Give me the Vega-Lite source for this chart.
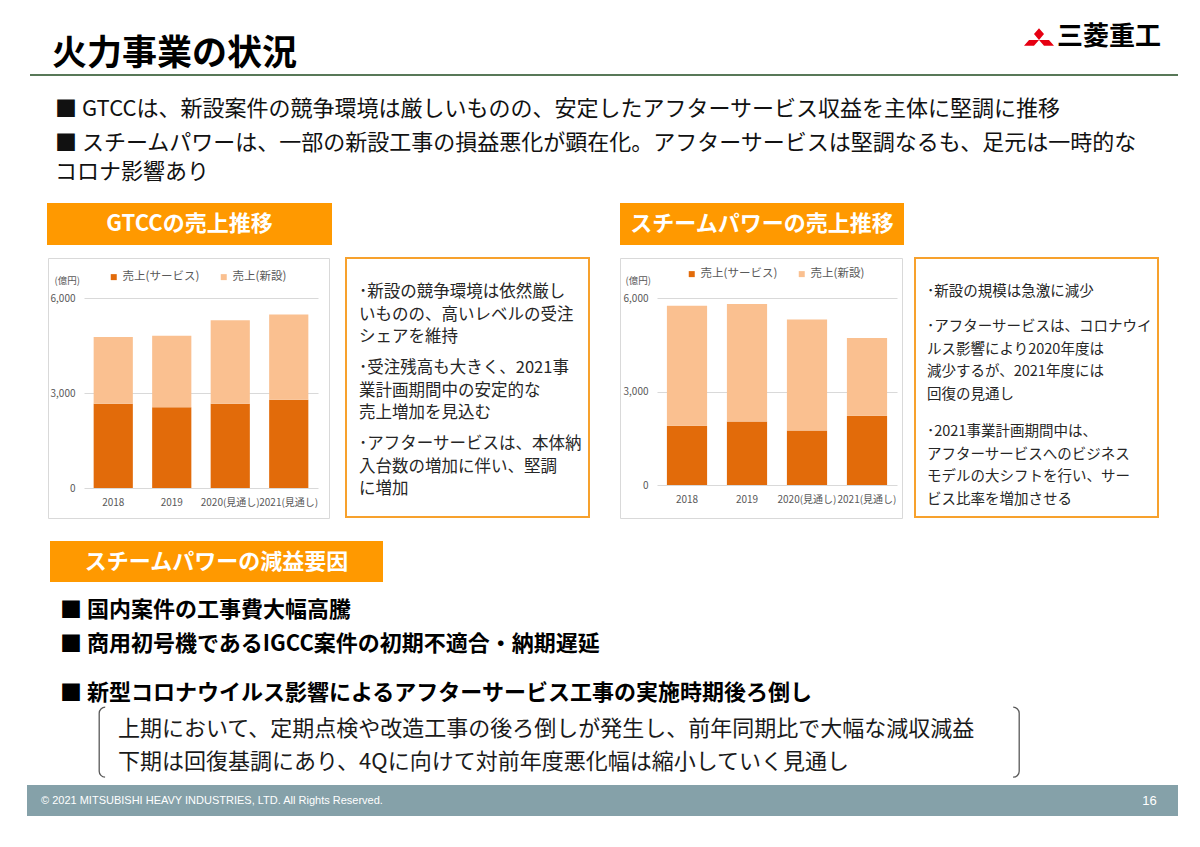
{
  "$schema": "https://vega.github.io/schema/vega-lite/v6.json",
  "background": "white",
  "padding": 0,
  "spacing": 0,
  "config": {"view": {"stroke": null}, "concat": {"spacing": 0}, "font": "Noto Sans CJK JP"},
  "resolve": {"scale": {"color": "independent"}, "legend": {"color": "independent"}},
  "datasets": {
    "gtcc": [
      {"年度": "2018", "系列": "売上(サービス)", "売上": 2660},
      {"年度": "2018", "系列": "売上(新設)", "売上": 2110},
      {"年度": "2019", "系列": "売上(サービス)", "売上": 2550},
      {"年度": "2019", "系列": "売上(新設)", "売上": 2260},
      {"年度": "2020(見通し)", "系列": "売上(サービス)", "売上": 2660},
      {"年度": "2020(見通し)", "系列": "売上(新設)", "売上": 2640},
      {"年度": "2021(見通し)", "系列": "売上(サービス)", "売上": 2790},
      {"年度": "2021(見通し)", "系列": "売上(新設)", "売上": 2690}
    ],
    "steam": [
      {"年度": "2018", "系列": "売上(サービス)", "売上": 1900},
      {"年度": "2018", "系列": "売上(新設)", "売上": 3850},
      {"年度": "2019", "系列": "売上(サービス)", "売上": 2040},
      {"年度": "2019", "系列": "売上(新設)", "売上": 3770},
      {"年度": "2020(見通し)", "系列": "売上(サービス)", "売上": 1750},
      {"年度": "2020(見通し)", "系列": "売上(新設)", "売上": 3560},
      {"年度": "2021(見通し)", "系列": "売上(サービス)", "売上": 2220},
      {"年度": "2021(見通し)", "系列": "売上(新設)", "売上": 2500}
    ],
    "steamNote": [
      {"区分": "スチームパワー所見", "段落": 1, "文": ["･新設の規模は急激に減少"]},
      {"区分": "スチームパワー所見", "段落": 2, "文": ["･アフターサービスは、コロナウイ", "\u2002ルス影響により2020年度は", "\u2002減少するが、2021年度には", "\u2002回復の見通し"]},
      {"区分": "スチームパワー所見", "段落": 3, "文": ["･2021事業計画期間中は、", "\u2002アフターサービスへのビジネス", "\u2002モデルの大シフトを行い、サー", "\u2002ビス比率を増加させる"]}
    ]
  },
  "vconcat": [
    {"spacing": 0, "hconcat": [
      {"width": 52, "height": 74, "data": {"values": []}, "mark": "text"},
      {"width": 480, "height": 74,
       "data": {"values": [{"区分": "表題", "段落": 1, "文": "火力事業の状況"}]},
       "mark": {"type": "text", "align": "left", "baseline": "middle", "fontSize": 35, "fontWeight": "bold", "color": "#000000"},
       "encoding": {
         "text": {"field": "文"},
         "x": {"field": "区分", "type": "nominal", "axis": null, "bandPosition": 0, "scale": {"type": "band", "paddingInner": 0, "paddingOuter": 0}},
         "y": {"field": "段落", "type": "ordinal", "axis": null, "scale": {"type": "point", "padding": 0, "range": [54, 54]}}
       }},
      {"width": 492, "height": 74, "data": {"values": []}, "mark": "text"},
      {"width": 30, "height": 74,
       "data": {"values": [{"社章": "三菱"}]},
       "mark": {"type": "point", "shape": "M0,-0.51L0.289,-0.17L0,0.17L-0.289,-0.17Z M0,0.17L-0.577,0.17L-0.866,0.51L-0.289,0.51Z M0,0.17L0.577,0.17L0.866,0.51L0.289,0.51Z", "size": 1200, "filled": true, "color": "#E60012", "opacity": 1, "strokeWidth": 0}},
      {"width": 3, "height": 74, "data": {"values": []}, "mark": "text"},
      {"width": 121, "height": 74,
       "data": {"values": [{"区分": "社名", "文": "三菱重工"}]},
       "mark": {"type": "text", "align": "left", "baseline": "middle", "fontSize": 26, "fontWeight": "bold", "color": "#000000"},
       "encoding": {
         "text": {"field": "文"},
         "x": {"field": "区分", "type": "nominal", "axis": null, "bandPosition": 0, "scale": {"type": "band", "paddingInner": 0, "paddingOuter": 0}}
       }}
    ]},
    {"spacing": 0, "hconcat": [
      {"width": 30, "height": 2, "data": {"values": []}, "mark": "text"},
      {"width": 1148, "height": 2, "view": {"fill": "#587858", "stroke": null}, "data": {"values": []}, "mark": "text"}
    ]},
    {"spacing": 0, "hconcat": [
      {"width": 55, "height": 127, "data": {"values": []}, "mark": "text"},
      {"width": 1123, "height": 127,
       "data": {"values": [
         {"区分": "要旨", "段落": 1, "文": ["■ GTCCは、新設案件の競争環境は厳しいものの、安定したアフターサービス収益を主体に堅調に推移"]},
         {"区分": "要旨", "段落": 2, "文": ["■ スチームパワーは、一部の新設工事の損益悪化が顕在化。アフターサービスは堅調なるも、足元は一時的な", "\u3000 コロナ影響あり"]}
       ]},
       "mark": {"type": "text", "align": "left", "baseline": "top", "fontSize": 22, "lineHeight": 29, "color": "#111111"},
       "encoding": {
         "text": {"field": "文"},
         "x": {"field": "区分", "type": "nominal", "axis": null, "bandPosition": 0, "scale": {"type": "band", "paddingInner": 0, "paddingOuter": 0}},
         "y": {"field": "段落", "type": "ordinal", "axis": null, "scale": {"type": "point", "padding": 0, "range": [23, 57]}}
       }}
    ]},
    {"spacing": 0, "hconcat": [
      {"width": 47, "height": 42, "data": {"values": []}, "mark": "text"},
      {"width": 285, "height": 42, "view": {"fill": "#FF9900", "stroke": null},
       "data": {"values": [{"文": "GTCCの売上推移"}]},
       "mark": {"type": "text", "align": "center", "baseline": "middle", "fontSize": 22, "fontWeight": "bold", "color": "#FFFFFF"},
       "encoding": {"text": {"field": "文"}}},
      {"width": 288, "height": 42, "data": {"values": []}, "mark": "text"},
      {"width": 284, "height": 42, "view": {"fill": "#FF9900", "stroke": null},
       "data": {"values": [{"文": "スチームパワーの売上推移"}]},
       "mark": {"type": "text", "align": "center", "baseline": "middle", "fontSize": 22, "fontWeight": "bold", "color": "#FFFFFF"},
       "encoding": {"text": {"field": "文"}}}
    ]},
    {"width": 10, "height": 12, "data": {"values": []}, "mark": "text"},
    {"spacing": 0,
     "resolve": {"scale": {"color": "independent"}, "legend": {"color": "independent"}},
     "hconcat": [
      {"width": 47, "height": 260, "data": {"values": []}, "mark": "text"},
      {"width": 281, "height": 260,
       "view": {"stroke": "#D9D9D9", "strokeWidth": 1, "fill": "white"},
       "data": {"name": "gtcc"},
       "mark": {"type": "bar"},
       "encoding": {
         "x": {"field": "年度", "type": "nominal", "sort": null,
               "scale": {"range": [36, 270], "paddingInner": 0.33, "paddingOuter": 0.165},
               "axis": {"title": null, "labelAngle": 0, "domain": false, "ticks": false, "grid": false, "labelPadding": 3, "offset": -24, "labelFontSize": 10, "labelColor": "#595959", "labelOverlap": false, "labelBaseline": "top"}},
         "y": {"field": "売上", "type": "quantitative", "stack": "zero",
               "scale": {"domain": [0, 6000], "range": [230, 40], "nice": false},
               "axis": {"values": [0, 3000, 6000], "format": ",d", "title": "(億円)", "titleAngle": 0, "titleAlign": "left", "titleBaseline": "middle", "titleX": -24, "titleY": 22, "titleFontSize": 9.5, "titleFontWeight": "normal", "titleColor": "#595959", "domain": false, "ticks": false, "labelPadding": 3, "offset": -30, "grid": true, "gridColor": "#D9D9D9", "gridWidth": 1, "labelFontSize": 10, "labelColor": "#595959"}},
         "color": {"field": "系列", "type": "nominal",
               "scale": {"domain": ["売上(サービス)", "売上(新設)"], "range": ["#E26B0A", "#FAC090"]},
               "legend": {"orient": "none", "legendX": 60, "legendY": 13, "direction": "horizontal", "title": null, "symbolType": "square", "symbolSize": 36, "symbolStrokeWidth": 0, "labelFontSize": 11.5, "labelColor": "#595959", "columnPadding": 18, "labelOffset": 3}},
         "order": {"field": "系列", "sort": "ascending"}
       }},
      {"width": 15, "height": 260, "data": {"values": []}, "mark": "text"},
      {"width": 243, "height": 259,
       "view": {"stroke": "#F7A12D", "strokeWidth": 2, "fill": "white"},
       "data": {"values": [
         {"区分": "GTCC所見", "段落": 1, "文": ["･新設の競争環境は依然厳し", "\u2002いものの、高いレベルの受注", "\u2002シェアを維持"]},
         {"区分": "GTCC所見", "段落": 2, "文": ["･受注残高も大きく、2021事", "\u2002業計画期間中の安定的な", "\u2002売上増加を見込む"]},
         {"区分": "GTCC所見", "段落": 3, "文": ["･アフターサービスは、本体納", "\u2002入台数の増加に伴い、堅調", "\u2002に増加"]}
       ]},
       "mark": {"type": "text", "align": "left", "baseline": "top", "fontSize": 16.5, "lineHeight": 22.5, "color": "#262626"},
       "encoding": {
         "text": {"field": "文"},
         "x": {"field": "区分", "type": "nominal", "axis": null, "bandPosition": 0, "scale": {"type": "band", "paddingInner": 0, "paddingOuter": 0, "range": [13, 243]}},
         "y": {"field": "段落", "type": "ordinal", "axis": null, "scale": {"type": "point", "padding": 0, "range": [26.2, 178.2]}}
       }},
      {"width": 29, "height": 260, "data": {"values": []}, "mark": "text"},
      {"width": 282, "height": 260,
       "view": {"stroke": "#D9D9D9", "strokeWidth": 1, "fill": "white"},
       "data": {"name": "steam"},
       "mark": {"type": "bar"},
       "encoding": {
         "x": {"field": "年度", "type": "nominal", "sort": null,
               "scale": {"range": [37, 277], "paddingInner": 0.33, "paddingOuter": 0.165},
               "axis": {"title": null, "labelAngle": 0, "domain": false, "ticks": false, "grid": false, "labelPadding": 3, "offset": -27, "labelFontSize": 10, "labelColor": "#595959", "labelOverlap": false, "labelBaseline": "top"}},
         "y": {"field": "売上", "type": "quantitative", "stack": "zero",
               "scale": {"domain": [0, 6000], "range": [227, 40], "nice": false},
               "axis": {"values": [0, 3000, 6000], "format": ",d", "title": "(億円)", "titleAngle": 0, "titleAlign": "left", "titleBaseline": "middle", "titleX": -26, "titleY": 22, "titleFontSize": 9.5, "titleFontWeight": "normal", "titleColor": "#595959", "domain": false, "ticks": false, "labelPadding": 3, "offset": -31, "grid": true, "gridColor": "#D9D9D9", "gridWidth": 1, "labelFontSize": 10, "labelColor": "#595959"}},
         "color": {"field": "系列", "type": "nominal",
               "scale": {"domain": ["売上(サービス)", "売上(新設)"], "range": ["#E26B0A", "#FAC090"]},
               "legend": {"orient": "none", "legendX": 66, "legendY": 10, "direction": "horizontal", "title": null, "symbolType": "square", "symbolSize": 36, "symbolStrokeWidth": 0, "labelFontSize": 11.5, "labelColor": "#595959", "columnPadding": 18, "labelOffset": 3}},
         "order": {"field": "系列", "sort": "ascending"}
       }},
      {"width": 11, "height": 260, "data": {"values": []}, "mark": "text"},
      {"width": 243, "height": 259,
       "view": {"stroke": "#F7A12D", "strokeWidth": 2, "fill": "white"},
       "data": {"name": "steamNote"},
       "layer": [
         {"transform": [{"filter": "datum['段落'] == 1"}],
          "mark": {"type": "text", "align": "left", "baseline": "top", "fontSize": 14.5, "lineHeight": 22.5, "color": "#262626"},
          "encoding": {
            "text": {"field": "文"},
            "x": {"field": "区分", "type": "nominal", "axis": null, "bandPosition": 0, "scale": {"type": "band", "paddingInner": 0, "paddingOuter": 0, "range": [12, 243]}},
            "y": {"field": "段落", "type": "ordinal", "axis": null, "scale": {"type": "point", "padding": 0, "range": [27.1, 27.1]}}
          }},
         {"transform": [{"filter": "datum['段落'] != 1"}],
          "mark": {"type": "text", "align": "left", "baseline": "top", "fontSize": 14.5, "lineHeight": 22.5, "color": "#262626"},
          "encoding": {
            "text": {"field": "文"},
            "x": {"field": "区分", "type": "nominal", "axis": null, "bandPosition": 0, "scale": {"type": "band", "paddingInner": 0, "paddingOuter": 0, "range": [12, 243]}},
            "y": {"field": "段落", "type": "ordinal", "axis": null, "scale": {"type": "point", "padding": 0, "range": [62.1, 167.1]}}
          }}
       ],
       "resolve": {"scale": {"y": "independent"}}}
    ]},
    {"width": 10, "height": 22, "data": {"values": []}, "mark": "text"},
    {"spacing": 0, "hconcat": [
      {"width": 50, "height": 41, "data": {"values": []}, "mark": "text"},
      {"width": 333, "height": 41, "view": {"fill": "#FF9900", "stroke": null},
       "data": {"values": [{"文": "スチームパワーの減益要因"}]},
       "mark": {"type": "text", "align": "center", "baseline": "middle", "fontSize": 22, "fontWeight": "bold", "color": "#FFFFFF"},
       "encoding": {"text": {"field": "文"}}}
    ]},
    {"spacing": 0, "hconcat": [
      {"width": 60, "height": 201, "data": {"values": []}, "mark": "text"},
      {"spacing": 0, "vconcat": [
        {"width": 1000, "height": 77,
         "data": {"values": [
           {"区分": "減益要因", "段落": 1, "文": "■ 国内案件の工事費大幅高騰"},
           {"区分": "減益要因", "段落": 2, "文": "■ 商用初号機であるIGCC案件の初期不適合・納期遅延"}
         ]},
         "mark": {"type": "text", "align": "left", "baseline": "middle", "fontSize": 22, "fontWeight": "bold", "color": "#000000"},
         "encoding": {
           "text": {"field": "文"},
           "x": {"field": "区分", "type": "nominal", "axis": null, "bandPosition": 0, "scale": {"type": "band", "paddingInner": 0, "paddingOuter": 0}},
           "y": {"field": "段落", "type": "ordinal", "axis": null, "scale": {"type": "point", "padding": 0, "range": [28, 62]}}
         }},
        {"width": 1000, "height": 47,
         "data": {"values": [
           {"区分": "減益要因", "段落": 3, "文": "■ 新型コロナウイルス影響によるアフターサービス工事の実施時期後ろ倒し"}
         ]},
         "mark": {"type": "text", "align": "left", "baseline": "middle", "fontSize": 22, "fontWeight": "bold", "color": "#000000"},
         "encoding": {
           "text": {"field": "文"},
           "x": {"field": "区分", "type": "nominal", "axis": null, "bandPosition": 0, "scale": {"type": "band", "paddingInner": 0, "paddingOuter": 0}},
           "y": {"field": "段落", "type": "ordinal", "axis": null, "scale": {"type": "point", "padding": 0, "range": [34, 34]}}
         }},
        {"spacing": 0, "hconcat": [
          {"width": 38, "height": 70, "data": {"values": []}, "mark": "text"},
          {"width": 920, "height": 70,
           "view": {"stroke": "#595959", "strokeWidth": 1.3, "cornerRadius": 6, "strokeDash": [0, 908, 76.85, 908, 76.85]},
           "data": {"values": [
             {"区分": "補足", "段落": 1, "文": "上期において、定期点検や改造工事の後ろ倒しが発生し、前年同期比で大幅な減収減益"},
             {"区分": "補足", "段落": 2, "文": "下期は回復基調にあり、4Qに向けて対前年度悪化幅は縮小していく見通し"}
           ]},
           "mark": {"type": "text", "align": "left", "baseline": "middle", "fontSize": 22, "color": "#1A1A1A"},
           "encoding": {
             "text": {"field": "文"},
             "x": {"field": "区分", "type": "nominal", "axis": null, "bandPosition": 0, "scale": {"type": "band", "paddingInner": 0, "paddingOuter": 0, "range": [19, 920]}},
             "y": {"field": "段落", "type": "ordinal", "axis": null, "scale": {"type": "point", "padding": 0, "range": [22, 55]}}
           }}
        ]},
        {"width": 10, "height": 7, "data": {"values": []}, "mark": "text"}
      ]}
    ]},
    {"spacing": 0, "hconcat": [
      {"width": 27, "height": 31, "data": {"values": []}, "mark": "text"},
      {"width": 1094, "height": 31, "view": {"fill": "#85A1A9", "stroke": null},
       "data": {"values": [{"区分": "著作権", "文": "© 2021 MITSUBISHI HEAVY INDUSTRIES, LTD.  All Rights Reserved."}]},
       "mark": {"type": "text", "align": "left", "baseline": "middle", "font": "Liberation Sans", "fontSize": 11, "color": "#FFFFFF"},
       "encoding": {
         "text": {"field": "文"},
         "x": {"field": "区分", "type": "nominal", "axis": null, "bandPosition": 0, "scale": {"type": "band", "paddingInner": 0, "paddingOuter": 0, "range": [14, 1094]}}
       }},
      {"width": 57, "height": 31, "view": {"fill": "#85A1A9", "stroke": null},
       "data": {"values": [{"文": "16"}]},
       "mark": {"type": "text", "align": "center", "baseline": "middle", "font": "Liberation Sans", "fontSize": 13, "color": "#FFFFFF"},
       "encoding": {"text": {"field": "文"}}}
    ]}
  ]
}
